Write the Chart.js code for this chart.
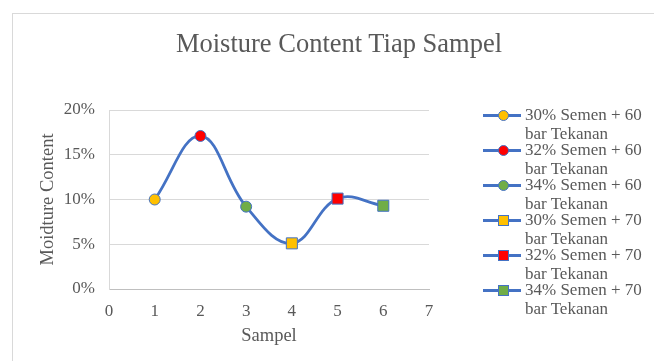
<!DOCTYPE html>
<html lang="en">
<head>
    <meta charset="UTF-8">
    <title>Moisture Content Tiap Sampel</title>
    <script src="https://cdn.jsdelivr.net/npm/chart.js"></script>
    <style>
        body {
            margin: 0;
            background: #fff;
            font-family: "Liberation Serif", serif;
        }
        #wrap {
            position: relative;
            width: 654px;
            height: 361px;
            overflow: hidden;
        }
        #frame {
            position: absolute;
            left: 12px;
            top: 13px;
            width: 700px;
            height: 400px;
            border-left: 1px solid #d9d9d9;
            border-top: 1px solid #d9d9d9;
        }
        canvas {
            position: absolute;
            left: 0;
            top: 0;
        }
        #title {
            position: absolute;
            left: 0;
            top: 28px;
            width: 678px;
            text-align: center;
            color: #595959;
            font-size: 26.5px;
            line-height: 30px;
            white-space: nowrap;
        }
        #legend {
            position: absolute;
            left: 483px;
            top: 105px;
            color: #595959;
            font-size: 17px;
            line-height: 19px;
        }
        .item {
            position: relative;
            height: 35px;
            padding-left: 42px;
            white-space: nowrap;
        }
        .item .ln {
            position: absolute;
            left: 0;
            top: 9px;
            width: 38px;
            height: 3px;
            background: #4472c4;
        }
        .item .mk {
            position: absolute;
            left: 15px;
            top: 5px;
            width: 9px;
            height: 9px;
            border: 1px solid #4472c4;
        }
        .item .mk.circle { border-radius: 50%; }
    </style>
</head>
<body>
<div id="wrap">
    <div id="frame"></div>
    <canvas id="chart" width="654" height="361"></canvas>
    <div id="title">Moisture Content Tiap Sampel</div>
    <div id="legend"></div>
</div>
<script>
    const samples = [1, 2, 3, 4, 5, 6];
    const moisture = [10.0, 17.1, 9.2, 5.1, 10.1, 9.3];
    const seriesNames = [
        ['30% Semen + 60', 'bar Tekanan'],
        ['32% Semen + 60', 'bar Tekanan'],
        ['34% Semen + 60', 'bar Tekanan'],
        ['30% Semen + 70', 'bar Tekanan'],
        ['32% Semen + 70', 'bar Tekanan'],
        ['34% Semen + 70', 'bar Tekanan']
    ];
    const yTicks = [0, 5, 10, 15, 20];
    const xTicks = [0, 1, 2, 3, 4, 5, 6, 7];

    const markerFill = ['#ffc000', '#ff0000', '#70ad47', '#ffc000', '#ff0000', '#70ad47'];
    const markerShape = ['circle', 'circle', 'circle', 'rect', 'rect', 'rect'];

    const grey = '#595959';
    const serif = '"Liberation Serif", "Times New Roman", serif';

    const ctx = document.getElementById('chart').getContext('2d');
    const chart = new Chart(ctx, {
        type: 'line',
        data: {
            datasets: [{
                data: samples.map((s, i) => ({ x: s, y: moisture[i] })),
                borderColor: '#4472c4',
                borderWidth: 2.75,
                tension: 0.4,
                pointStyle: markerShape,
                pointBackgroundColor: markerFill,
                pointBorderColor: '#4472c4',
                pointBorderWidth: 1,
                pointRadius: markerShape.map(s => s === 'rect' ? 7.8 : 5.5)
            }]
        },
        options: {
            responsive: false,
            animation: false,
            layout: { padding: { left: 37, right: 225, top: 110, bottom: 15 } },
            plugins: {
                legend: { display: false },
                tooltip: { enabled: false },
                title: { display: false }
            },
            scales: {
                x: {
                    type: 'linear',
                    min: 0,
                    max: 7,
                    afterBuildTicks: axis => { axis.ticks = xTicks.map(v => ({ value: v })); },
                    afterFit: axis => { axis.height = 57; },
                    grid: { display: false, drawTicks: false },
                    border: { display: true, color: '#bfbfbf', width: 1 },
                    ticks: { color: grey, font: { family: serif, size: 17 }, padding: 12 },
                    title: {
                        display: true,
                        text: 'Sampel',
                        color: grey,
                        font: { family: serif, size: 18.5 },
                        padding: { top: 0, bottom: -1.5 }
                    }
                },
                y: {
                    min: 0,
                    max: 20,
                    afterBuildTicks: axis => { axis.ticks = yTicks.map(v => ({ value: v })); },
                    afterFit: axis => { axis.width = 72; },
                    grid: { color: '#d9d9d9', drawTicks: false },
                    border: { display: true, color: '#d9d9d9', width: 1 },
                    ticks: {
                        color: grey,
                        font: { family: serif, size: 17 },
                        padding: 14,
                        callback: v => v + '%'
                    },
                    title: {
                        display: true,
                        text: 'Moidture Content',
                        color: grey,
                        font: { family: serif, size: 18.5 },
                        padding: { top: 0, bottom: 0 }
                    }
                }
            }
        }
    });

    const legend = document.getElementById('legend');
    seriesNames.forEach((name, i) => {
        const item = document.createElement('div');
        item.className = 'item';
        const ln = document.createElement('div');
        ln.className = 'ln';
        const mk = document.createElement('div');
        mk.className = 'mk ' + markerShape[i];
        mk.style.background = markerFill[i];
        item.appendChild(ln);
        item.appendChild(mk);
        item.appendChild(document.createTextNode(name[0]));
        item.appendChild(document.createElement('br'));
        item.appendChild(document.createTextNode(name[1]));
        legend.appendChild(item);
    });
</script>
</body>
</html>
